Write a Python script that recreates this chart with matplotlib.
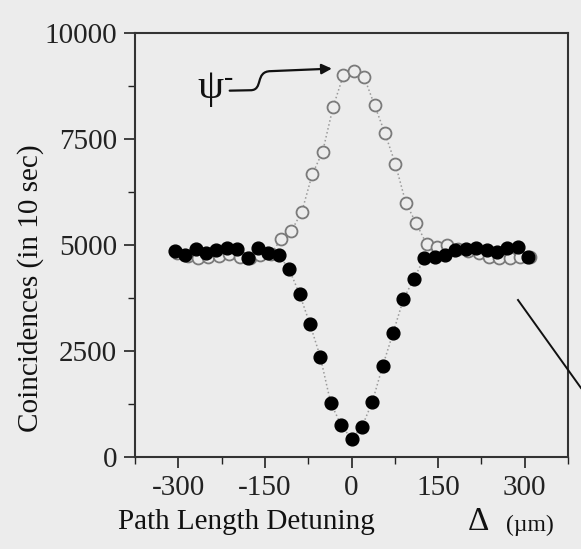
import numpy as np
import matplotlib
matplotlib.use("Agg")
import matplotlib.pyplot as plt
from matplotlib.lines import Line2D
from matplotlib.patches import FancyArrowPatch
from matplotlib.path import Path

# path length detuning steps (um)
steps = np.arange(-17, 18)
x_pm = steps * 18.0          # filled points
x_psi = steps * 18.0 + 4.0   # open points (psi-minus)

# coincidences in 10 sec
y_pm = [4858, 4764, 4906, 4804, 4882, 4937, 4898, 4686, 4921, 4804,
        4764, 4427, 3844, 3137, 2358, 1274, 755, 425, 708, 1297,
        2146, 2925, 3726, 4198, 4693, 4717, 4764, 4882, 4906, 4929,
        4882, 4835, 4929, 4953, 4717]
y_psi = [4800, 4750, 4690, 4720, 4750, 4780, 4720, 4700, 4760, 4780,
         5141, 5337, 5785, 6667, 7200, 8248, 9009, 9104, 8955, 8295,
         7634, 6910, 5998, 5512, 5024, 4960, 5000, 4900, 4850, 4800,
         4710, 4686, 4686, 4710, 4710]

xticks = [-300, -150, 0, 150, 300]
yticks = [0, 2500, 5000, 7500, 10000]

plt.rcParams['font.family'] = ['Liberation Serif', 'DejaVu Serif']
plt.rcParams['axes.unicode_minus'] = False
bg = '#ececec'

fig = plt.figure(figsize=(5.81, 5.49), dpi=100, facecolor=bg)
ax = fig.add_axes([0.2324, 0.1676, 0.7452, 0.7723], facecolor=bg)

ax.plot(x_psi, y_psi, ls=':', color='#9a9a9a', lw=1.1, marker='o',
        mfc=bg, mec='#7a7a7a', mew=1.3, ms=8.6, zorder=2)
ax.plot(x_pm, y_pm, ls=':', color='#9a9a9a', lw=1.1, marker='o',
        mfc='black', mec='black', ms=9.2, zorder=3)

ax.set_xlim(-374, 369)
ax.set_ylim(0, 10000)
ax.set_xticks(xticks)
ax.set_yticks(yticks)
ax.set_xticks(np.arange(-375, 376, 75), minor=True)
ax.set_yticks(np.arange(0, 10001, 1250), minor=True)
ax.tick_params(which='major', direction='out', length=8, width=1.2,
               labelsize=21, pad=5, colors='#222222')
ax.tick_params(which='minor', direction='out', length=5, width=1.0,
               colors='#222222')
for s in ax.spines.values():
    s.set_linewidth(1.5)
    s.set_color('#333333')

# psi-minus label with curly arrow
ax.text(-245, 8700, 'ψ', fontsize=30, ha='center', va='center', color='#111111')
ax.text(-213, 8920, '-', fontsize=20, ha='center', va='center', color='#111111')
verts = [(-211, 8640), (-175, 8650), (-152, 8650), (-168, 9095),
         (-140, 9100), (-34, 9160)]
codes = [Path.MOVETO, Path.LINETO, Path.CURVE4, Path.CURVE4, Path.CURVE4,
         Path.LINETO]
arrow = FancyArrowPatch(path=Path(verts, codes),
                        arrowstyle='-|>,head_length=6,head_width=3',
                        color='#111111', lw=1.6, zorder=4)
ax.add_patch(arrow)

# axis labels
fig.text(0.052, 1 - 288 / 549, 'Coincidences (in 10 sec)', rotation=90,
         fontsize=21, ha='center', va='center', color='#111111')
fig.text(246 / 581, 1 - 522 / 549, 'Path Length Detuning', fontsize=21,
         ha='center', va='center', color='#111111')
fig.text(478 / 581, 1 - 522 / 549, 'Δ', fontsize=24, ha='center',
         va='center', color='#111111')
fig.text(530 / 581, 1 - 525 / 549, '(µm)', fontsize=17, ha='center',
         va='center', color='#111111')

# stray stroke from the scanned page
fig.add_artist(Line2D([518 / 581, 1.0], [1 - 300 / 549, 1 - 388 / 549],
                      color='#111111', lw=1.4))

fig.savefig('out.png', dpi=100, facecolor=bg)
